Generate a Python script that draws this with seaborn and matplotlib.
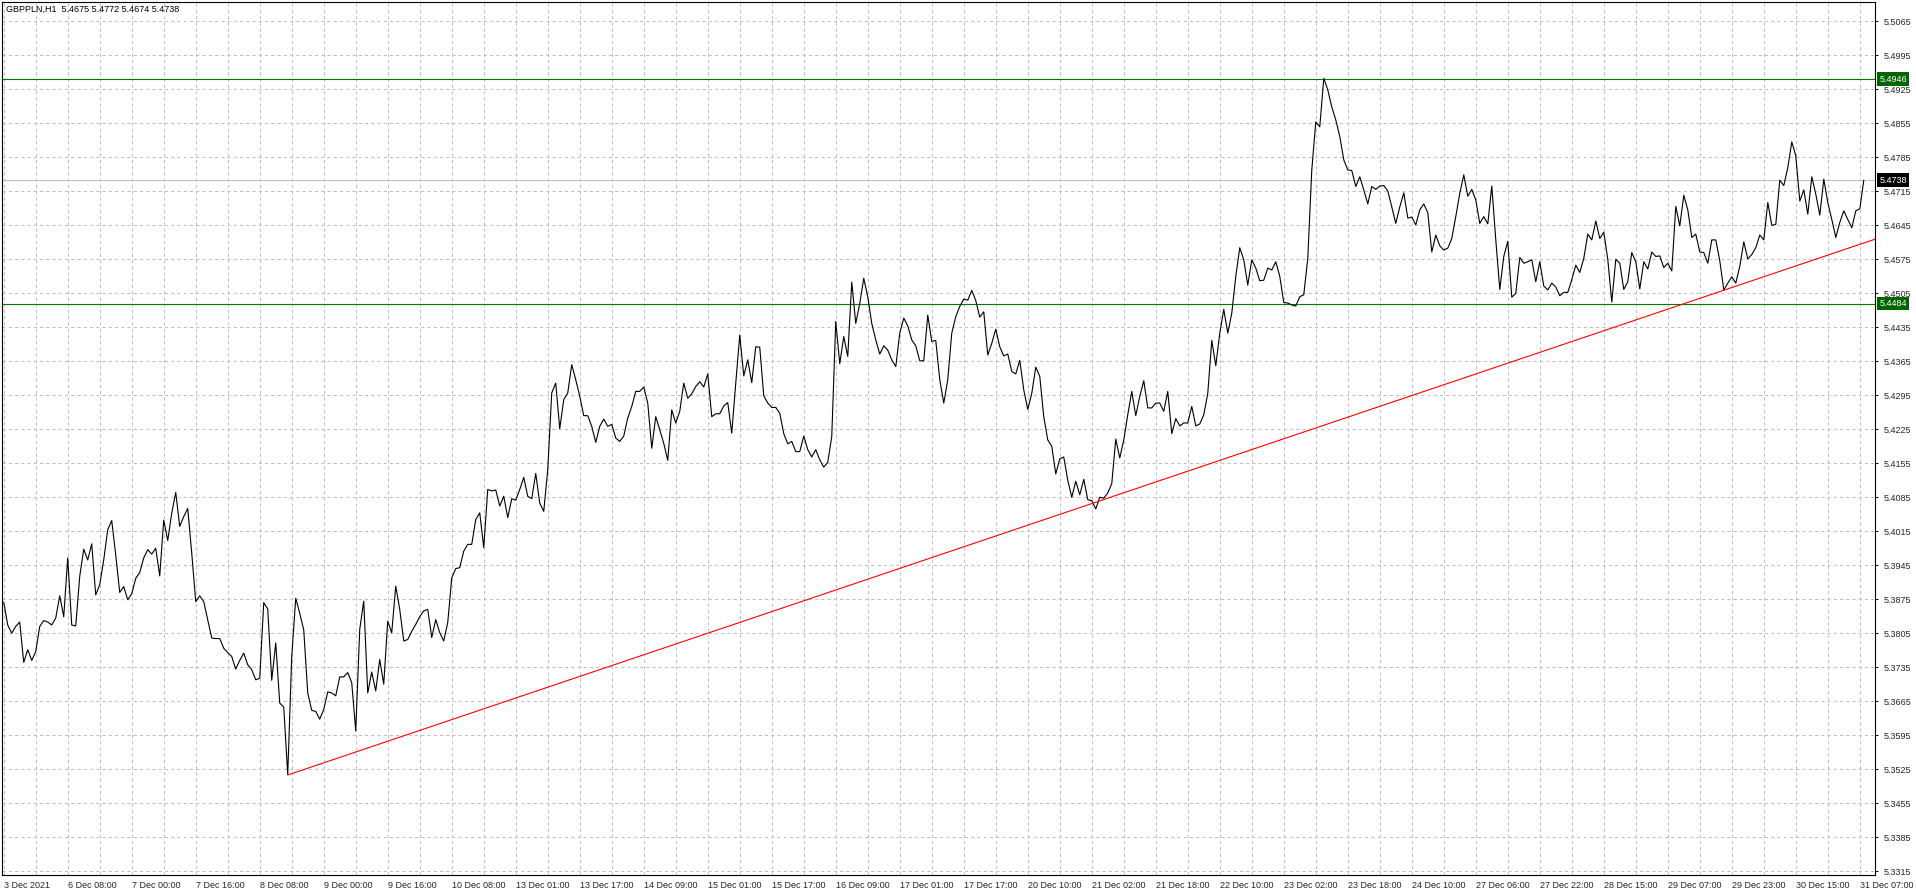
import numpy as np
import pandas as pd
import matplotlib
matplotlib.use("Agg")
import matplotlib.pyplot as plt
import seaborn as sns

# ---------- DATA (GBPPLN H1 closes, one value per bar) ----------
header = "GBPPLN,H1  5.4675 5.4772 5.4674 5.4738"

close_dec03_08 = [
    5.3869, 5.3822, 5.3805, 5.3819, 5.3828, 5.3745, 5.3771, 5.3749, 5.3767, 5.3819,
    5.3831, 5.3828, 5.3822, 5.3836, 5.3882, 5.3839, 5.3960, 5.3822, 5.3820, 5.3922,
    5.3978, 5.3956, 5.3989, 5.3884, 5.3905, 5.3956, 5.4018, 5.4037, 5.3966, 5.3889,
    5.3901, 5.3874, 5.3886, 5.3918, 5.3930, 5.3960, 5.3977, 5.3968, 5.3980, 5.3923,
    5.4038, 5.3996, 5.4052, 5.4095, 5.4025, 5.4045, 5.4062, 5.3970, 5.3870, 5.3882,
    5.3870, 5.3833, 5.3795, 5.3794, 5.3794, 5.3774, 5.3765, 5.3757, 5.3731, 5.3749,
    5.3764, 5.3740, 5.3730, 5.3709, 5.3712, 5.3868, 5.3855, 5.3708, 5.3785, 5.3661,
    5.3653, 5.3514, 5.3757, 5.3877, 5.3846, 5.3812, 5.3682, 5.3646, 5.3644,
]
close_dec08_14 = [
    5.3628, 5.3648, 5.3684, 5.3682, 5.3676, 5.3715, 5.3715, 5.3724, 5.3703, 5.3604,
    5.3813, 5.3871, 5.3682, 5.3725, 5.3686, 5.3751, 5.3700, 5.3830, 5.3806, 5.3902,
    5.3854, 5.3789, 5.3792, 5.3809, 5.3823, 5.3839, 5.3851, 5.3854, 5.3796, 5.3833,
    5.3806, 5.3789, 5.3827, 5.3919, 5.3938, 5.3940, 5.3974, 5.3988, 5.3988, 5.4039,
    5.4053, 5.3981, 5.4101, 5.4098, 5.4100, 5.4067, 5.4087, 5.4043, 5.4082, 5.4079,
    5.4101, 5.4126, 5.4087, 5.4082, 5.4134, 5.4073, 5.4056, 5.4142, 5.4300, 5.4320,
    5.4226, 5.4286, 5.4300, 5.4358, 5.4327, 5.4293, 5.4253, 5.4253, 5.4231, 5.4198,
    5.4231, 5.4246, 5.4231, 5.4235, 5.4207, 5.4200, 5.4211, 5.4248,
]
close_dec14_20 = [
    5.4272, 5.4303, 5.4303, 5.4312, 5.4279, 5.4186, 5.4251, 5.4224, 5.4196, 5.4161,
    5.4265, 5.4238, 5.4262, 5.4320, 5.4289, 5.4298, 5.4313, 5.4323, 5.4312, 5.4339,
    5.4251, 5.4257, 5.4257, 5.4273, 5.4280, 5.4217, 5.4320, 5.4419, 5.4335, 5.4368,
    5.4321, 5.4395, 5.4394, 5.4294, 5.4279, 5.4270, 5.4270, 5.4258, 5.4216, 5.4195,
    5.4200, 5.4179, 5.4179, 5.4211, 5.4183, 5.4168, 5.4183, 5.4162, 5.4147, 5.4157,
    5.4210, 5.4447, 5.4360, 5.4416, 5.4375, 5.4528, 5.4443, 5.4484, 5.4536, 5.4498,
    5.4443, 5.4409, 5.4380, 5.4397, 5.4388, 5.4368, 5.4354, 5.4423, 5.4454, 5.4438,
    5.4409, 5.4397, 5.4366, 5.4366, 5.4460, 5.4406, 5.4408,
]
close_dec20_23 = [
    5.4327, 5.4279, 5.4327, 5.4423, 5.4457, 5.4478, 5.4493, 5.4491, 5.4511, 5.4490,
    5.4456, 5.4467, 5.4378, 5.4402, 5.4431, 5.4395, 5.4376, 5.4380, 5.4344, 5.4339,
    5.4367, 5.4306, 5.4266, 5.4299, 5.4353, 5.4334, 5.4251, 5.4203, 5.4190, 5.4133,
    5.4164, 5.4168, 5.4120, 5.4085, 5.4118, 5.4090, 5.4122, 5.4080, 5.4078, 5.4061,
    5.4085, 5.4083, 5.4094, 5.4113, 5.4205, 5.4166, 5.4203, 5.4255, 5.4303, 5.4253,
    5.4293, 5.4325, 5.4269, 5.4269, 5.4279, 5.4279, 5.4262, 5.4303, 5.4216, 5.4247,
    5.4232, 5.4238, 5.4238, 5.4272, 5.4232, 5.4236, 5.4255, 5.4299, 5.4408, 5.4356,
    5.4423, 5.4472, 5.4423, 5.4464, 5.4540, 5.4599, 5.4574, 5.4522,
]
close_dec23_28 = [
    5.4574, 5.4557, 5.4531, 5.4532, 5.4557, 5.4553, 5.4570, 5.4540, 5.4486, 5.4485,
    5.4481, 5.4479, 5.4498, 5.4502, 5.4577, 5.4759, 5.4858, 5.4848, 5.4948, 5.4924,
    5.4889, 5.4862, 5.4828, 5.4780, 5.4759, 5.4758, 5.4725, 5.4745, 5.4718, 5.4689,
    5.4725, 5.4719, 5.4726, 5.4727, 5.4716, 5.4683, 5.4649, 5.4683, 5.4712, 5.4660,
    5.4662, 5.4646, 5.4677, 5.4689, 5.4671, 5.4590, 5.4625, 5.4603, 5.4594, 5.4598,
    5.4618, 5.4663, 5.4711, 5.4749, 5.4705, 5.4719, 5.4697, 5.4649, 5.4663, 5.4648,
    5.4726, 5.4615, 5.4513, 5.4581, 5.4612, 5.4497, 5.4505, 5.4579, 5.4567, 5.4570,
    5.4574, 5.4529, 5.4570, 5.4520, 5.4512, 5.4526,
]
close_dec28_31 = [
    5.4518, 5.4500, 5.4507, 5.4507, 5.4533, 5.4563, 5.4548, 5.4577, 5.4627, 5.4615,
    5.4654, 5.4618, 5.4631, 5.4575, 5.4487, 5.4575, 5.4567, 5.4513, 5.4529, 5.4589,
    5.4570, 5.4514, 5.4570, 5.4555, 5.4590, 5.4581, 5.4582, 5.4558, 5.4567, 5.4551,
    5.4684, 5.4644, 5.4707, 5.4677, 5.4620, 5.4627, 5.4590, 5.4589, 5.4567, 5.4615,
    5.4615, 5.4572, 5.4512, 5.4526, 5.4539, 5.4526, 5.4561, 5.4611, 5.4576, 5.4585,
    5.4599, 5.4625, 5.4615, 5.4692, 5.4645, 5.4647, 5.4738, 5.4727, 5.4764, 5.4817,
    5.4788, 5.4695, 5.4718, 5.4668, 5.4745, 5.4709, 5.4666, 5.4740, 5.4692, 5.4657,
    5.4620, 5.4651, 5.4675, 5.4657, 5.4640, 5.4675, 5.4679, 5.4738,
]

time_labels = [
    "3 Dec 2021", "6 Dec 08:00", "7 Dec 00:00", "7 Dec 16:00", "8 Dec 08:00",
    "9 Dec 00:00", "9 Dec 16:00", "10 Dec 08:00", "13 Dec 01:00", "13 Dec 17:00",
    "14 Dec 09:00", "15 Dec 01:00", "15 Dec 17:00", "16 Dec 09:00", "17 Dec 01:00",
    "17 Dec 17:00", "20 Dec 10:00", "21 Dec 02:00", "21 Dec 18:00", "22 Dec 10:00",
    "23 Dec 02:00", "23 Dec 18:00", "24 Dec 10:00", "27 Dec 06:00", "27 Dec 22:00",
    "28 Dec 15:00", "29 Dec 07:00", "29 Dec 23:00", "30 Dec 15:00", "31 Dec 07:00",
]

level_upper = 5.4946
level_lower = 5.4484
last_price = 5.4738
trend_bars = [71, 468]
trend_prices = [5.3513, 5.4617]

# ---------- PLOT ----------
W, H, DPI = 1916, 896, 100
BARS_PER_LABEL = 16
PRICE_STEP = 0.007
FS = 6.5

sns.set_style("white")
plt.rcParams["font.family"] = ["Liberation Sans", "DejaVu Sans"]
plt.rcParams["font.size"] = FS

close = close_dec03_08 + close_dec08_14 + close_dec14_20 + close_dec20_23 + close_dec23_28 + close_dec28_31
df = pd.DataFrame({"bar": np.arange(len(close)), "close": close})

fig = plt.figure(figsize=(W / DPI, H / DPI), dpi=DPI)
ax = fig.add_axes([2 / W, 21 / H, 1873 / W, 873 / H])

ax.axhline(last_price, color="#c0c0c0", lw=0.8, zorder=2)
ax.axhline(level_upper, color="#007800", lw=0.8, zorder=2)
ax.axhline(level_lower, color="#007800", lw=0.8, zorder=2)
sns.lineplot(data=df, x="bar", y="close", ax=ax, color="black", linewidth=0.8, zorder=3)
ax.plot(trend_bars, trend_prices, color="#ff0000", lw=0.8, zorder=4)

ax.set_xlim(-0.43, 467.8)
ax.set_ylim(5.3307, 5.5105)

# x axis: label every 16 bars, grid every 8
ax.set_xticks(np.arange(len(time_labels)) * BARS_PER_LABEL)
ax.set_xticklabels(time_labels, ha="left")
ax.set_xticks(np.arange(8, 468, 16), minor=True)
ax.tick_params(axis="x", which="major", length=3, width=0.7, pad=1.5, color="black", labelsize=FS)
ax.tick_params(axis="x", which="minor", length=0)

# y axis on the right
yt = 5.3315 + PRICE_STEP * np.arange(26)
ax.yaxis.tick_right()
ax.set_yticks(yt)
ax.set_yticklabels([f"{v:.4f}" for v in yt])
ax.tick_params(axis="y", length=2, width=0.7, pad=4, color="black", labelsize=FS)

ax.grid(True, which="both", color="#c0c0c0", lw=0.75, linestyle=(0, (3, 3)))
ax.set_axisbelow(True)
ax.set_xlabel("")
ax.set_ylabel("")
for s in ax.spines.values():
    s.set_visible(True)
    s.set_color("black")
    s.set_linewidth(0.8)

# price boxes on the scale
for val, fc in [(level_upper, "#006400"), (level_lower, "#006400"), (last_price, "black")]:
    ax.annotate(f"{val:.4f}", xy=(1, val), xycoords=("axes fraction", "data"),
                xytext=(3.2, 0), textcoords="offset points", ha="left", va="center",
                color="white", fontsize=FS,
                bbox=dict(boxstyle="square,pad=0.25", fc=fc, ec="none"))

fig.text(6 / W, 1 - 9.5 / H, header, ha="left", va="center", fontsize=FS, color="black")

fig.savefig("out.png", dpi=DPI, facecolor="white")
